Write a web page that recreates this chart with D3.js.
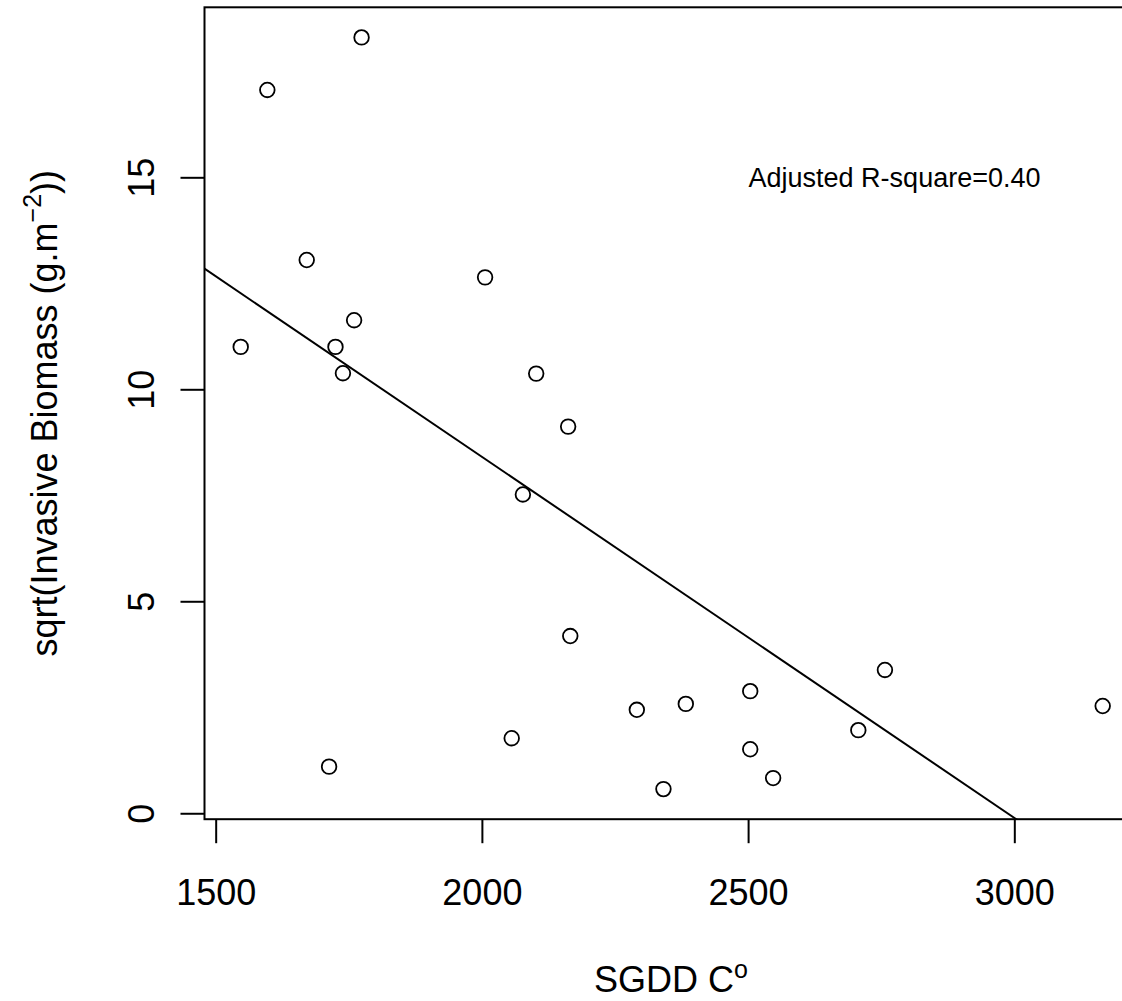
<!DOCTYPE html>
<html>
<head>
<meta charset="utf-8">
<script src="https://cdn.jsdelivr.net/npm/d3@7"></script>
<style>
  body { margin: 0; background: #fff; }
  text { font-family: "Liberation Sans", Arial, sans-serif; fill: #000; }
</style>
</head>
<body>
<div id="scatter"></div>
<script>
// data
var sgdd = [1547, 1597, 1774, 1671, 1725, 1760, 1739, 1713, 2006, 2102, 2162, 2077,
            2166, 2056, 2291, 2383, 2504, 2504, 2547, 2341, 2757, 2707, 3166];
var biomass = [11.00, 17.06, 18.30, 13.05, 11.00, 11.63, 10.38, 1.10, 12.64, 10.37, 9.12, 7.52,
               4.18, 1.77, 2.44, 2.58, 2.88, 1.51, 0.83, 0.57, 3.38, 1.96, 2.53];
var xTicks = [1500, 2000, 2500, 3000];
var yTicks = [0, 5, 10, 15];
var fitCoef = [25.44, -0.008516]; // intercept, slope
var annotation = "Adjusted R-square=0.40";

var width = 1122, height = 1001;

var svg = d3.select("#scatter")
  .append("svg")
  .attr("width", width)
  .attr("height", height);

var xScale = d3.scaleLinear().domain([1479, 3231]).range([204.5, 1137.3]);
var yScale = d3.scaleLinear().domain([-0.14, 19.01]).range([819.2, 7.3]);

var x0 = xScale.range()[0], x1 = xScale.range()[1];
var y0 = yScale.range()[1], y1 = yScale.range()[0];

svg.append("clipPath").attr("id", "clip")
  .append("rect")
  .attr("x", x0).attr("y", y0)
  .attr("width", x1 - x0).attr("height", y1 - y0);

// box
svg.append("rect")
  .attr("x", x0).attr("y", y0)
  .attr("width", x1 - x0).attr("height", y1 - y0)
  .style("fill", "none").style("stroke", "#000").style("stroke-width", 2);

// x axis
var xAxis = svg.append("g")
  .attr("transform", "translate(0," + y1 + ")")
  .call(d3.axisBottom(xScale).tickValues(xTicks).tickSize(24).tickPadding(36).tickFormat(d3.format("d")));
xAxis.select(".domain").remove();
xAxis.selectAll("line").style("stroke-width", 2);
xAxis.selectAll("text").style("font-size", "36px").attr("font-family", null);

// y axis, labels rotated like R
var yAxis = svg.append("g")
  .attr("transform", "translate(" + x0 + ",0)")
  .call(d3.axisLeft(yScale).tickValues(yTicks).tickSize(24).tickFormat(d3.format("d")));
yAxis.select(".domain").remove();
yAxis.selectAll("line").style("stroke-width", 2);
yAxis.selectAll("text")
  .attr("x", null).attr("dy", null)
  .attr("text-anchor", "middle")
  .attr("font-family", null)
  .attr("transform", "translate(-51,0) rotate(-90)")
  .style("font-size", "36px");

// regression line
svg.append("line")
  .attr("clip-path", "url(#clip)")
  .attr("x1", xScale(1479)).attr("y1", yScale(fitCoef[0] + fitCoef[1] * 1479))
  .attr("x2", xScale(3231)).attr("y2", yScale(fitCoef[0] + fitCoef[1] * 3231))
  .style("stroke", "#000").style("stroke-width", 2);

// points
svg.append("g").selectAll("circle")
  .data(sgdd)
  .enter()
  .append("circle")
  .attr("cx", function (d) { return xScale(d); })
  .attr("cy", function (d, i) { return yScale(biomass[i]); })
  .attr("r", 7.3)
  .style("fill", "none")
  .style("stroke", "#000")
  .style("stroke-width", 1.8);

// annotation
svg.append("text")
  .attr("x", xScale(2775))
  .attr("y", yScale(15))
  .attr("dy", "0.36em")
  .attr("text-anchor", "middle")
  .style("font-size", "27px")
  .text(annotation);

// x title
var xt = svg.append("text")
  .attr("x", (x0 + x1) / 2)
  .attr("y", 992)
  .attr("text-anchor", "middle")
  .style("font-size", "36px");
xt.append("tspan").text("SGDD C");
xt.append("tspan").attr("dy", "-14").style("font-size", "25px").text("o");

// y title
var yt = svg.append("text")
  .attr("transform", "translate(57," + ((y0 + y1) / 2) + ") rotate(-90)")
  .attr("text-anchor", "middle")
  .style("font-size", "36px");
yt.append("tspan").text("sqrt(Invasive Biomass (g.m");
yt.append("tspan").attr("dy", "-16").style("font-size", "25px").text("\u22122");
yt.append("tspan").attr("dy", "16").text("))");
</script>
</body>
</html>
